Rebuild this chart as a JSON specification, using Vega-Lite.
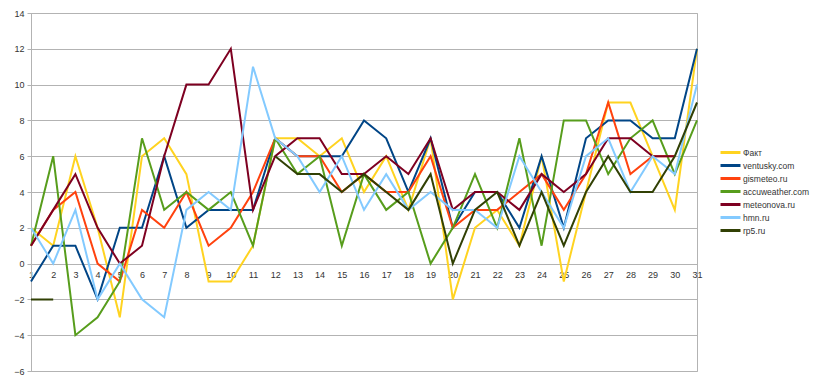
{
  "$schema": "https://vega.github.io/schema/vega-lite/v6.json",
  "autosize": {"type": "none"},
  "padding": {"left": 31, "top": 13, "right": 123, "bottom": 13},
  "width": 666,
  "height": 358,
  "background": "#ffffff",
  "config": {
    "view": {"stroke": "#b3b3b3", "strokeWidth": 1},
    "font": "Liberation Sans",
    "mark": {"invalid": "break-paths-show-domains"}
  },
  "data": {
    "values": [
      {"s":"Факт","d":1,"t":2},{"s":"Факт","d":2,"t":1},{"s":"Факт","d":3,"t":6},{"s":"Факт","d":4,"t":2},{"s":"Факт","d":5,"t":-3},{"s":"Факт","d":6,"t":6},{"s":"Факт","d":7,"t":7},{"s":"Факт","d":8,"t":5},{"s":"Факт","d":9,"t":-1},{"s":"Факт","d":10,"t":-1},{"s":"Факт","d":11,"t":1},{"s":"Факт","d":12,"t":7},{"s":"Факт","d":13,"t":7},{"s":"Факт","d":14,"t":6},{"s":"Факт","d":15,"t":7},{"s":"Факт","d":16,"t":4},{"s":"Факт","d":17,"t":6},{"s":"Факт","d":18,"t":3},{"s":"Факт","d":19,"t":7},{"s":"Факт","d":20,"t":-2},{"s":"Факт","d":21,"t":2},{"s":"Факт","d":22,"t":3},{"s":"Факт","d":23,"t":1},{"s":"Факт","d":24,"t":6},{"s":"Факт","d":25,"t":-1},{"s":"Факт","d":26,"t":4},{"s":"Факт","d":27,"t":9},{"s":"Факт","d":28,"t":9},{"s":"Факт","d":29,"t":6},{"s":"Факт","d":30,"t":3},{"s":"Факт","d":31,"t":12},
      {"s":"ventusky.com","d":1,"t":-1},{"s":"ventusky.com","d":2,"t":1},{"s":"ventusky.com","d":3,"t":1},{"s":"ventusky.com","d":4,"t":-2},{"s":"ventusky.com","d":5,"t":2},{"s":"ventusky.com","d":6,"t":2},{"s":"ventusky.com","d":7,"t":6},{"s":"ventusky.com","d":8,"t":2},{"s":"ventusky.com","d":9,"t":3},{"s":"ventusky.com","d":10,"t":3},{"s":"ventusky.com","d":11,"t":3},{"s":"ventusky.com","d":12,"t":7},{"s":"ventusky.com","d":13,"t":6},{"s":"ventusky.com","d":14,"t":6},{"s":"ventusky.com","d":15,"t":6},{"s":"ventusky.com","d":16,"t":8},{"s":"ventusky.com","d":17,"t":7},{"s":"ventusky.com","d":18,"t":4},{"s":"ventusky.com","d":19,"t":7},{"s":"ventusky.com","d":20,"t":2},{"s":"ventusky.com","d":21,"t":4},{"s":"ventusky.com","d":22,"t":4},{"s":"ventusky.com","d":23,"t":2},{"s":"ventusky.com","d":24,"t":6},{"s":"ventusky.com","d":25,"t":2},{"s":"ventusky.com","d":26,"t":7},{"s":"ventusky.com","d":27,"t":8},{"s":"ventusky.com","d":28,"t":8},{"s":"ventusky.com","d":29,"t":7},{"s":"ventusky.com","d":30,"t":7},{"s":"ventusky.com","d":31,"t":12},
      {"s":"gismeteo.ru","d":1,"t":1},{"s":"gismeteo.ru","d":2,"t":3},{"s":"gismeteo.ru","d":3,"t":4},{"s":"gismeteo.ru","d":4,"t":0},{"s":"gismeteo.ru","d":5,"t":-1},{"s":"gismeteo.ru","d":6,"t":3},{"s":"gismeteo.ru","d":7,"t":2},{"s":"gismeteo.ru","d":8,"t":4},{"s":"gismeteo.ru","d":9,"t":1},{"s":"gismeteo.ru","d":10,"t":2},{"s":"gismeteo.ru","d":11,"t":4},{"s":"gismeteo.ru","d":12,"t":7},{"s":"gismeteo.ru","d":13,"t":6},{"s":"gismeteo.ru","d":14,"t":6},{"s":"gismeteo.ru","d":15,"t":4},{"s":"gismeteo.ru","d":16,"t":5},{"s":"gismeteo.ru","d":17,"t":4},{"s":"gismeteo.ru","d":18,"t":4},{"s":"gismeteo.ru","d":19,"t":6},{"s":"gismeteo.ru","d":20,"t":2},{"s":"gismeteo.ru","d":21,"t":3},{"s":"gismeteo.ru","d":22,"t":3},{"s":"gismeteo.ru","d":23,"t":4},{"s":"gismeteo.ru","d":24,"t":5},{"s":"gismeteo.ru","d":25,"t":3},{"s":"gismeteo.ru","d":26,"t":5},{"s":"gismeteo.ru","d":27,"t":9},{"s":"gismeteo.ru","d":28,"t":5},{"s":"gismeteo.ru","d":29,"t":6},{"s":"gismeteo.ru","d":30,"t":6},{"s":"gismeteo.ru","d":31,"t":null},
      {"s":"accuweather.com","d":1,"t":1},{"s":"accuweather.com","d":2,"t":6},{"s":"accuweather.com","d":3,"t":-4},{"s":"accuweather.com","d":4,"t":-3},{"s":"accuweather.com","d":5,"t":-1},{"s":"accuweather.com","d":6,"t":7},{"s":"accuweather.com","d":7,"t":3},{"s":"accuweather.com","d":8,"t":4},{"s":"accuweather.com","d":9,"t":3},{"s":"accuweather.com","d":10,"t":4},{"s":"accuweather.com","d":11,"t":1},{"s":"accuweather.com","d":12,"t":7},{"s":"accuweather.com","d":13,"t":5},{"s":"accuweather.com","d":14,"t":6},{"s":"accuweather.com","d":15,"t":1},{"s":"accuweather.com","d":16,"t":5},{"s":"accuweather.com","d":17,"t":3},{"s":"accuweather.com","d":18,"t":4},{"s":"accuweather.com","d":19,"t":0},{"s":"accuweather.com","d":20,"t":2},{"s":"accuweather.com","d":21,"t":5},{"s":"accuweather.com","d":22,"t":2},{"s":"accuweather.com","d":23,"t":7},{"s":"accuweather.com","d":24,"t":1},{"s":"accuweather.com","d":25,"t":8},{"s":"accuweather.com","d":26,"t":8},{"s":"accuweather.com","d":27,"t":5},{"s":"accuweather.com","d":28,"t":7},{"s":"accuweather.com","d":29,"t":8},{"s":"accuweather.com","d":30,"t":5},{"s":"accuweather.com","d":31,"t":8},
      {"s":"meteonova.ru","d":1,"t":1},{"s":"meteonova.ru","d":2,"t":3},{"s":"meteonova.ru","d":3,"t":5},{"s":"meteonova.ru","d":4,"t":2},{"s":"meteonova.ru","d":5,"t":0},{"s":"meteonova.ru","d":6,"t":1},{"s":"meteonova.ru","d":7,"t":6},{"s":"meteonova.ru","d":8,"t":10},{"s":"meteonova.ru","d":9,"t":10},{"s":"meteonova.ru","d":10,"t":12},{"s":"meteonova.ru","d":11,"t":3},{"s":"meteonova.ru","d":12,"t":6},{"s":"meteonova.ru","d":13,"t":7},{"s":"meteonova.ru","d":14,"t":7},{"s":"meteonova.ru","d":15,"t":5},{"s":"meteonova.ru","d":16,"t":5},{"s":"meteonova.ru","d":17,"t":6},{"s":"meteonova.ru","d":18,"t":5},{"s":"meteonova.ru","d":19,"t":7},{"s":"meteonova.ru","d":20,"t":3},{"s":"meteonova.ru","d":21,"t":4},{"s":"meteonova.ru","d":22,"t":4},{"s":"meteonova.ru","d":23,"t":3},{"s":"meteonova.ru","d":24,"t":5},{"s":"meteonova.ru","d":25,"t":4},{"s":"meteonova.ru","d":26,"t":5},{"s":"meteonova.ru","d":27,"t":7},{"s":"meteonova.ru","d":28,"t":7},{"s":"meteonova.ru","d":29,"t":6},{"s":"meteonova.ru","d":30,"t":6},{"s":"meteonova.ru","d":31,"t":null},
      {"s":"hmn.ru","d":1,"t":2},{"s":"hmn.ru","d":2,"t":0},{"s":"hmn.ru","d":3,"t":3},{"s":"hmn.ru","d":4,"t":-2},{"s":"hmn.ru","d":5,"t":0},{"s":"hmn.ru","d":6,"t":-2},{"s":"hmn.ru","d":7,"t":-3},{"s":"hmn.ru","d":8,"t":3},{"s":"hmn.ru","d":9,"t":4},{"s":"hmn.ru","d":10,"t":3},{"s":"hmn.ru","d":11,"t":11},{"s":"hmn.ru","d":12,"t":7},{"s":"hmn.ru","d":13,"t":6},{"s":"hmn.ru","d":14,"t":4},{"s":"hmn.ru","d":15,"t":6},{"s":"hmn.ru","d":16,"t":3},{"s":"hmn.ru","d":17,"t":5},{"s":"hmn.ru","d":18,"t":3},{"s":"hmn.ru","d":19,"t":4},{"s":"hmn.ru","d":20,"t":3},{"s":"hmn.ru","d":21,"t":3},{"s":"hmn.ru","d":22,"t":2},{"s":"hmn.ru","d":23,"t":6},{"s":"hmn.ru","d":24,"t":4},{"s":"hmn.ru","d":25,"t":2},{"s":"hmn.ru","d":26,"t":6},{"s":"hmn.ru","d":27,"t":7},{"s":"hmn.ru","d":28,"t":4},{"s":"hmn.ru","d":29,"t":6},{"s":"hmn.ru","d":30,"t":5},{"s":"hmn.ru","d":31,"t":10},
      {"s":"rp5.ru","d":1,"t":-2},{"s":"rp5.ru","d":2,"t":-2},{"s":"rp5.ru","d":3,"t":null},{"s":"rp5.ru","d":4,"t":null},{"s":"rp5.ru","d":5,"t":null},{"s":"rp5.ru","d":6,"t":null},{"s":"rp5.ru","d":7,"t":null},{"s":"rp5.ru","d":8,"t":null},{"s":"rp5.ru","d":9,"t":null},{"s":"rp5.ru","d":10,"t":null},{"s":"rp5.ru","d":11,"t":null},{"s":"rp5.ru","d":12,"t":6},{"s":"rp5.ru","d":13,"t":5},{"s":"rp5.ru","d":14,"t":5},{"s":"rp5.ru","d":15,"t":4},{"s":"rp5.ru","d":16,"t":5},{"s":"rp5.ru","d":17,"t":4},{"s":"rp5.ru","d":18,"t":3},{"s":"rp5.ru","d":19,"t":5},{"s":"rp5.ru","d":20,"t":0},{"s":"rp5.ru","d":21,"t":3},{"s":"rp5.ru","d":22,"t":4},{"s":"rp5.ru","d":23,"t":1},{"s":"rp5.ru","d":24,"t":4},{"s":"rp5.ru","d":25,"t":1},{"s":"rp5.ru","d":26,"t":4},{"s":"rp5.ru","d":27,"t":6},{"s":"rp5.ru","d":28,"t":4},{"s":"rp5.ru","d":29,"t":4},{"s":"rp5.ru","d":30,"t":6},{"s":"rp5.ru","d":31,"t":9}
    ]
  },
  "mark": {"type": "line", "strokeWidth": 2, "strokeJoin": "miter", "invalid": "break-paths-show-domains"},
  "encoding": {
    "x": {
      "field": "d", "type": "quantitative",
      "scale": {"domain": [1, 31], "nice": false, "zero": false},
      "axis": {
        "title": null, "grid": false, "domain": false, "ticks": false,
        "values": [1,2,3,4,5,6,7,8,9,10,11,12,13,14,15,16,17,18,19,20,21,22,23,24,25,26,27,28,29,30,31],
        "offset": -107.4, "labelPadding": 7, "labelFlush": false,
        "labelFontSize": 9, "labelColor": "#333333", "labelFont": "Liberation Sans"
      }
    },
    "y": {
      "field": "t", "type": "quantitative",
      "scale": {"domain": [-6, 14], "nice": false},
      "axis": {
        "title": null, "values": [-6,-4,-2,0,2,4,6,8,10,12,14],
        "grid": true, "gridColor": "#b3b3b3", "gridWidth": 1,
        "domain": true, "domainColor": "#b3b3b3",
        "ticks": true, "tickSize": 4, "tickColor": "#b3b3b3",
        "labelPadding": 3, "labelFontSize": 9, "labelColor": "#333333", "labelFont": "Liberation Sans"
      }
    },
    "color": {
      "field": "s", "type": "nominal",
      "sort": ["Факт","ventusky.com","gismeteo.ru","accuweather.com","meteonova.ru","hmn.ru","rp5.ru"],
      "scale": {
        "domain": ["Факт","ventusky.com","gismeteo.ru","accuweather.com","meteonova.ru","hmn.ru","rp5.ru"],
        "range": ["#ffd320","#004586","#ff420e","#579d1c","#7e0021","#83caff","#314004"]
      },
      "legend": {
        "title": null, "orient": "none", "legendX": 693, "legendY": 133,
        "symbolType": "M-2,0H2", "symbolSize": 100, "symbolStrokeWidth": 3,
        "labelFontSize": 8.5, "labelColor": "#333333", "labelFont": "Liberation Sans",
        "rowPadding": 0, "labelOffset": 6
      }
    }
  }
}
